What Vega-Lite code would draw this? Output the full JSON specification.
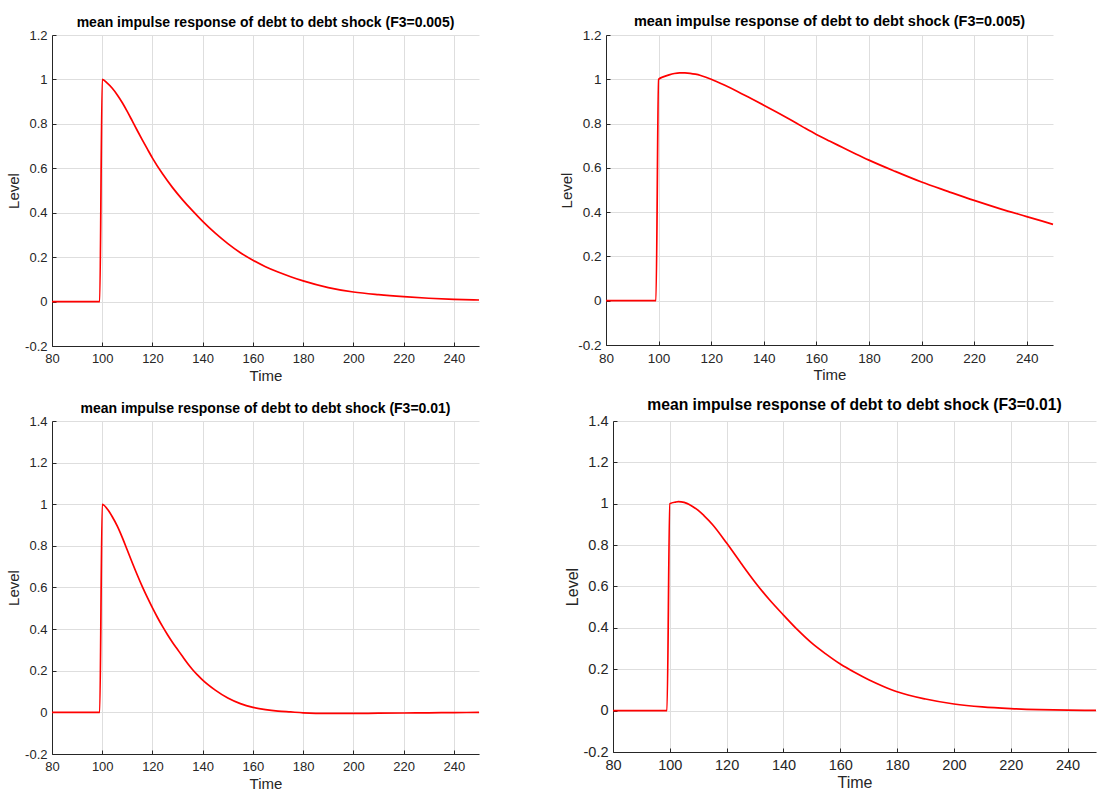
{
  "$schema": "https://vega.github.io/schema/vega-lite/v6.json",
  "background": "white",
  "padding": {"left": 6, "top": 13, "right": 0, "bottom": 0},
  "spacing": 14,
  "config": {
    "view": {"stroke": null},
    "title": {"font": "Liberation Sans", "fontWeight": "bold", "color": "#000000", "anchor": "middle", "baseline": "alphabetic", "offset": -1},
    "axis": {
      "grid": true, "gridColor": "#dedede", "gridWidth": 1,
      "domainColor": "#262626", "domainWidth": 1,
      "tickColor": "#262626", "tickSize": -4, "tickWidth": 1,
      "labelColor": "#262626", "labelFont": "Liberation Sans", "labelFontSize": 13,
      "labelPadding": 9, "labelFlush": false, "labelOverlap": false,
      "titleColor": "#262626", "titleFont": "Liberation Sans", "titleFontSize": 15, "titleFontWeight": "normal", "titlePadding": 3
    },
    "axisX": {"labelPadding": 10},
    "line": {"color": "#ff0000", "strokeWidth": 1.7, "interpolate": "monotone"}
  },
  "datasets": {
    "tl": [
      {"t": 80, "v": 0}, {"t": 99, "v": 0}, {"t": 100, "v": 1.0}, {"t": 102, "v": 0.983}, {"t": 104, "v": 0.96}, {"t": 106, "v": 0.93}, {"t": 108, "v": 0.895}, {"t": 110, "v": 0.855}, {"t": 112, "v": 0.812}, {"t": 114, "v": 0.769}, {"t": 116, "v": 0.727}, {"t": 118, "v": 0.686}, {"t": 120, "v": 0.646}, {"t": 124, "v": 0.575}, {"t": 128, "v": 0.513}, {"t": 132, "v": 0.458}, {"t": 136, "v": 0.408}, {"t": 140, "v": 0.361}, {"t": 145, "v": 0.308}, {"t": 150, "v": 0.261}, {"t": 155, "v": 0.22}, {"t": 160, "v": 0.186}, {"t": 165, "v": 0.157}, {"t": 170, "v": 0.133}, {"t": 175, "v": 0.112}, {"t": 180, "v": 0.093}, {"t": 190, "v": 0.063}, {"t": 200, "v": 0.043}, {"t": 210, "v": 0.031}, {"t": 220, "v": 0.022}, {"t": 230, "v": 0.015}, {"t": 240, "v": 0.01}, {"t": 250, "v": 0.007}
    ],
    "tr": [
      {"t": 80, "v": 0}, {"t": 99, "v": 0}, {"t": 100, "v": 1.0}, {"t": 102, "v": 1.012}, {"t": 104, "v": 1.02}, {"t": 106, "v": 1.026}, {"t": 108, "v": 1.029}, {"t": 110, "v": 1.029}, {"t": 112, "v": 1.027}, {"t": 114, "v": 1.023}, {"t": 116, "v": 1.017}, {"t": 118, "v": 1.009}, {"t": 120, "v": 1.0}, {"t": 122, "v": 0.99}, {"t": 125, "v": 0.974}, {"t": 130, "v": 0.945}, {"t": 135, "v": 0.914}, {"t": 140, "v": 0.883}, {"t": 145, "v": 0.851}, {"t": 150, "v": 0.818}, {"t": 155, "v": 0.784}, {"t": 160, "v": 0.751}, {"t": 165, "v": 0.721}, {"t": 170, "v": 0.692}, {"t": 175, "v": 0.663}, {"t": 180, "v": 0.635}, {"t": 190, "v": 0.584}, {"t": 200, "v": 0.536}, {"t": 210, "v": 0.494}, {"t": 220, "v": 0.453}, {"t": 230, "v": 0.415}, {"t": 240, "v": 0.38}, {"t": 250, "v": 0.345}
    ],
    "bl": [
      {"t": 80, "v": 0}, {"t": 99, "v": 0}, {"t": 100, "v": 1.0}, {"t": 102, "v": 0.977}, {"t": 104, "v": 0.94}, {"t": 106, "v": 0.895}, {"t": 108, "v": 0.84}, {"t": 110, "v": 0.779}, {"t": 112, "v": 0.718}, {"t": 114, "v": 0.659}, {"t": 116, "v": 0.603}, {"t": 118, "v": 0.551}, {"t": 120, "v": 0.502}, {"t": 122, "v": 0.456}, {"t": 124, "v": 0.413}, {"t": 126, "v": 0.373}, {"t": 128, "v": 0.336}, {"t": 130, "v": 0.302}, {"t": 132, "v": 0.268}, {"t": 134, "v": 0.235}, {"t": 136, "v": 0.205}, {"t": 138, "v": 0.179}, {"t": 140, "v": 0.155}, {"t": 145, "v": 0.107}, {"t": 150, "v": 0.069}, {"t": 155, "v": 0.042}, {"t": 160, "v": 0.024}, {"t": 165, "v": 0.013}, {"t": 170, "v": 0.006}, {"t": 175, "v": 0.002}, {"t": 180, "v": -0.002}, {"t": 190, "v": -0.005}, {"t": 200, "v": -0.005}, {"t": 210, "v": -0.004}, {"t": 220, "v": -0.003}, {"t": 230, "v": -0.002}, {"t": 240, "v": -0.001}, {"t": 250, "v": 0}
    ],
    "br": [
      {"t": 80, "v": 0}, {"t": 99, "v": 0}, {"t": 100, "v": 1.0}, {"t": 102, "v": 1.008}, {"t": 103, "v": 1.01}, {"t": 104, "v": 1.009}, {"t": 106, "v": 1.002}, {"t": 108, "v": 0.987}, {"t": 110, "v": 0.968}, {"t": 112, "v": 0.943}, {"t": 115, "v": 0.9}, {"t": 120, "v": 0.81}, {"t": 125, "v": 0.714}, {"t": 130, "v": 0.621}, {"t": 135, "v": 0.537}, {"t": 140, "v": 0.462}, {"t": 145, "v": 0.39}, {"t": 150, "v": 0.326}, {"t": 155, "v": 0.273}, {"t": 160, "v": 0.225}, {"t": 165, "v": 0.185}, {"t": 170, "v": 0.149}, {"t": 175, "v": 0.118}, {"t": 180, "v": 0.091}, {"t": 190, "v": 0.056}, {"t": 200, "v": 0.032}, {"t": 210, "v": 0.018}, {"t": 220, "v": 0.01}, {"t": 230, "v": 0.005}, {"t": 240, "v": 0.002}, {"t": 250, "v": 0.001}
    ]
  },
  "vconcat": [
    {
      "bounds": "flush",
      "spacing": 127,
      "hconcat": [
        {
          "width": 427, "height": 311,
          "title": {"text": "mean impulse response of debt to debt shock (F3=0.005)", "fontSize": 14},
          "data": {"name": "tl"},
          "mark": {"type": "line"},
          "encoding": {
            "x": {"field": "t", "type": "quantitative", "scale": {"domain": [80, 250], "nice": false, "zero": false},
                  "axis": {"title": "Time", "values": [80, 100, 120, 140, 160, 180, 200, 220, 240]}},
            "y": {"field": "v", "type": "quantitative", "scale": {"domain": [-0.2, 1.2], "nice": false},
                  "axis": {"title": "Level", "values": [-0.2, 0, 0.2, 0.4, 0.6, 0.8, 1, 1.2], "labelExpr": "datum.value + ''"}}
          }
        },
        {
          "width": 447, "height": 310,
          "title": {"text": "mean impulse response of debt to debt shock (F3=0.005)", "fontSize": 14.5},
          "data": {"name": "tr"},
          "mark": {"type": "line"},
          "encoding": {
            "x": {"field": "t", "type": "quantitative", "scale": {"domain": [80, 250], "nice": false, "zero": false},
                  "axis": {"title": "Time", "values": [80, 100, 120, 140, 160, 180, 200, 220, 240], "labelFontSize": 13.5}},
            "y": {"field": "v", "type": "quantitative", "scale": {"domain": [-0.2, 1.2], "nice": false},
                  "axis": {"title": "Level", "values": [-0.2, 0, 0.2, 0.4, 0.6, 0.8, 1, 1.2], "labelExpr": "datum.value + ''", "labelFontSize": 13.5}}
          }
        }
      ]
    },
    {
      "bounds": "flush",
      "spacing": 134,
      "hconcat": [
        {
          "width": 427, "height": 333,
          "title": {"text": "mean impulse response of debt to debt shock (F3=0.01)", "fontSize": 14},
          "data": {"name": "bl"},
          "mark": {"type": "line"},
          "encoding": {
            "x": {"field": "t", "type": "quantitative", "scale": {"domain": [80, 250], "nice": false, "zero": false},
                  "axis": {"title": "Time", "values": [80, 100, 120, 140, 160, 180, 200, 220, 240]}},
            "y": {"field": "v", "type": "quantitative", "scale": {"domain": [-0.2, 1.4], "nice": false},
                  "axis": {"title": "Level", "values": [-0.2, 0, 0.2, 0.4, 0.6, 0.8, 1, 1.2, 1.4], "labelExpr": "datum.value + ''"}}
          }
        },
        {
          "width": 483, "height": 331,
          "title": {"text": "mean impulse response of debt to debt shock (F3=0.01)", "fontSize": 15.7},
          "data": {"name": "br"},
          "mark": {"type": "line"},
          "encoding": {
            "x": {"field": "t", "type": "quantitative", "scale": {"domain": [80, 250], "nice": false, "zero": false},
                  "axis": {"title": "Time", "values": [80, 100, 120, 140, 160, 180, 200, 220, 240], "labelFontSize": 14.5, "titleFontSize": 16}},
            "y": {"field": "v", "type": "quantitative", "scale": {"domain": [-0.2, 1.4], "nice": false},
                  "axis": {"title": "Level", "values": [-0.2, 0, 0.2, 0.4, 0.6, 0.8, 1, 1.2, 1.4], "labelExpr": "datum.value + ''", "labelFontSize": 14.5, "titleFontSize": 16}}
          }
        }
      ]
    }
  ]
}
